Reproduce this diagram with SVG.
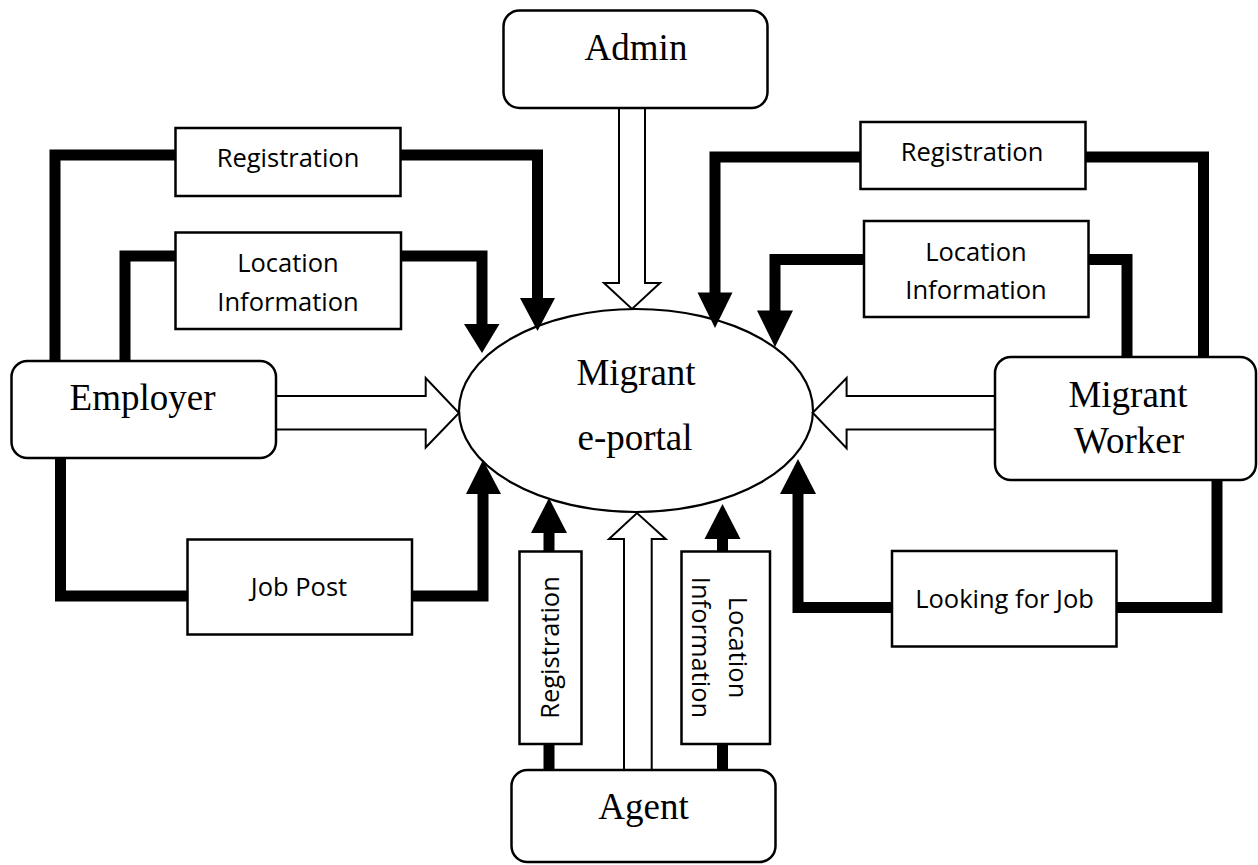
<svg xmlns="http://www.w3.org/2000/svg" width="1258" height="865" viewBox="0 0 1258 865">
  <defs>
    <style>
      .actor { fill: #fff; stroke: #000; stroke-width: 2.5; }
      .label { fill: #fff; stroke: #000; stroke-width: 2.5; }
      .portal { fill: #fff; stroke: #000; stroke-width: 2.2; }
      .flow { fill: none; stroke: #000; stroke-width: 11; stroke-linejoin: miter; stroke-linecap: butt; }
      .head { fill: #000; stroke: none; }
      .hollow { fill: #fff; stroke: #000; stroke-width: 2; stroke-linejoin: miter; }
      .serif { font-family: "Liberation Serif", "Times New Roman", serif; font-size: 37px; fill: #000; text-anchor: middle; }
      .sans { font-family: "Open Sans", "Liberation Sans", sans-serif; font-size: 25.5px; fill: #000; text-anchor: middle; }
    </style>
  </defs>
  <rect width="1258" height="865" fill="#fff"/>

  <!-- central process -->
  <g id="portal">
    <ellipse class="portal" cx="636" cy="410.5" rx="177" ry="101.5"/>
    <text class="serif" x="636" y="385">Migrant</text>
    <text class="serif" x="635" y="450">e-portal</text>
  </g>

  <!-- data flows -->
  <g id="connectors">
    <!-- Employer: registration -->
    <path class="flow" d="M55,361 V155 H176"/>
    <path class="flow" d="M400,155 H537.5 V300"/>
    <polygon class="head" points="520,298 555,298 537.5,331"/>
    <!-- Employer: location information -->
    <path class="flow" d="M125,361 V256 H176"/>
    <path class="flow" d="M400,256 H482 V325"/>
    <polygon class="head" points="464,324 499.5,324 482,353"/>
    <!-- Employer: job post -->
    <path class="flow" d="M60.5,458 V596 H188"/>
    <path class="flow" d="M411,596 H483 V493"/>
    <polygon class="head" points="466,494 501,494 483,460"/>

    <!-- Migrant worker: registration -->
    <path class="flow" d="M1203.5,357 V157 H1085"/>
    <path class="flow" d="M861,157 H715 V294"/>
    <polygon class="head" points="697.5,292.5 732.5,292.5 715,328"/>
    <!-- Migrant worker: location information -->
    <path class="flow" d="M1127,357 V259.5 H1088"/>
    <path class="flow" d="M864,259.5 H775 V312"/>
    <polygon class="head" points="757,310.5 793,310.5 775,347"/>
    <!-- Migrant worker: looking for job -->
    <path class="flow" d="M1217,480 V607.5 H1116"/>
    <path class="flow" d="M893,607.5 H798 V493"/>
    <polygon class="head" points="780,494 816,494 798,459"/>

    <!-- Agent: registration -->
    <path class="flow" d="M549,771 V743"/>
    <path class="flow" d="M549,552 V532"/>
    <polygon class="head" points="531,533 567,533 549,498"/>
    <!-- Agent: location information -->
    <path class="flow" d="M722.5,771 V743"/>
    <path class="flow" d="M722.5,552 V538"/>
    <polygon class="head" points="704.5,539 740.5,539 722.5,504"/>

    <!-- hollow arrows: direct access -->
    <polygon class="hollow" points="619,108 645,108 645,283 660,283 632,309 604,283 619,283"/>
    <polygon class="hollow" points="276,396 425.7,396 425.7,378 459,413 425.7,447.5 425.7,429.5 276,429.5"/>
    <polygon class="hollow" points="995,396 846.6,396 846.6,378 812.7,412.7 846.6,448.3 846.6,429.5 995,429.5"/>
    <polygon class="hollow" points="624,770 624,539 609,539 637,513 665.7,539 651.7,539 651.7,770"/>
  </g>

  <!-- actors -->
  <g id="admin">
    <rect class="actor" x="503.5" y="10.5" width="264" height="97.5" rx="16"/>
    <text class="serif" x="636" y="60">Admin</text>
  </g>
  <g id="employer">
    <rect class="actor" x="11.5" y="361" width="264.5" height="97" rx="16"/>
    <text class="serif" x="142.5" y="410">Employer</text>
  </g>
  <g id="migrant-worker">
    <rect class="actor" x="995" y="357" width="261" height="123" rx="16"/>
    <text class="serif" x="1128" y="406.7">Migrant</text>
    <text class="serif" x="1129" y="453">Worker</text>
  </g>
  <g id="agent">
    <rect class="actor" x="511.5" y="770" width="264" height="92" rx="16"/>
    <text class="serif" x="643.5" y="819">Agent</text>
  </g>

  <!-- flow labels -->
  <g id="employer-registration">
    <rect class="label" x="175.5" y="128" width="225" height="68"/>
    <text class="sans" x="288" y="166.7">Registration</text>
  </g>
  <g id="employer-location">
    <rect class="label" x="175.5" y="232.5" width="225.5" height="96.5"/>
    <text class="sans" x="288" y="272">Location</text>
    <text class="sans" x="288" y="310.5">Information</text>
  </g>
  <g id="employer-job-post">
    <rect class="label" x="187.5" y="539.5" width="224.5" height="95"/>
    <text class="sans" x="299" y="596">Job Post</text>
  </g>
  <g id="worker-registration">
    <rect class="label" x="860.5" y="122" width="225" height="67"/>
    <text class="sans" x="972" y="161">Registration</text>
  </g>
  <g id="worker-location">
    <rect class="label" x="864" y="221" width="224.5" height="96"/>
    <text class="sans" x="976" y="260.5">Location</text>
    <text class="sans" x="976" y="299">Information</text>
  </g>
  <g id="worker-looking-for-job">
    <rect class="label" x="892" y="551" width="224.5" height="95.5"/>
    <text class="sans" x="1004.5" y="608.3">Looking for Job</text>
  </g>
  <g id="agent-registration">
    <rect class="label" x="519.5" y="551.5" width="62" height="192.5"/>
    <text class="sans" transform="translate(549.5,647.5) rotate(-90)" x="0" y="9.5">Registration</text>
  </g>
  <g id="agent-location">
    <rect class="label" x="681.5" y="551.5" width="88.5" height="192.5"/>
    <text class="sans" transform="translate(725.5,647.5) rotate(90)" x="0" y="-3.5">Location</text>
    <text class="sans" transform="translate(725.5,647.5) rotate(90)" x="0" y="33.5">Information</text>
  </g>
</svg>
